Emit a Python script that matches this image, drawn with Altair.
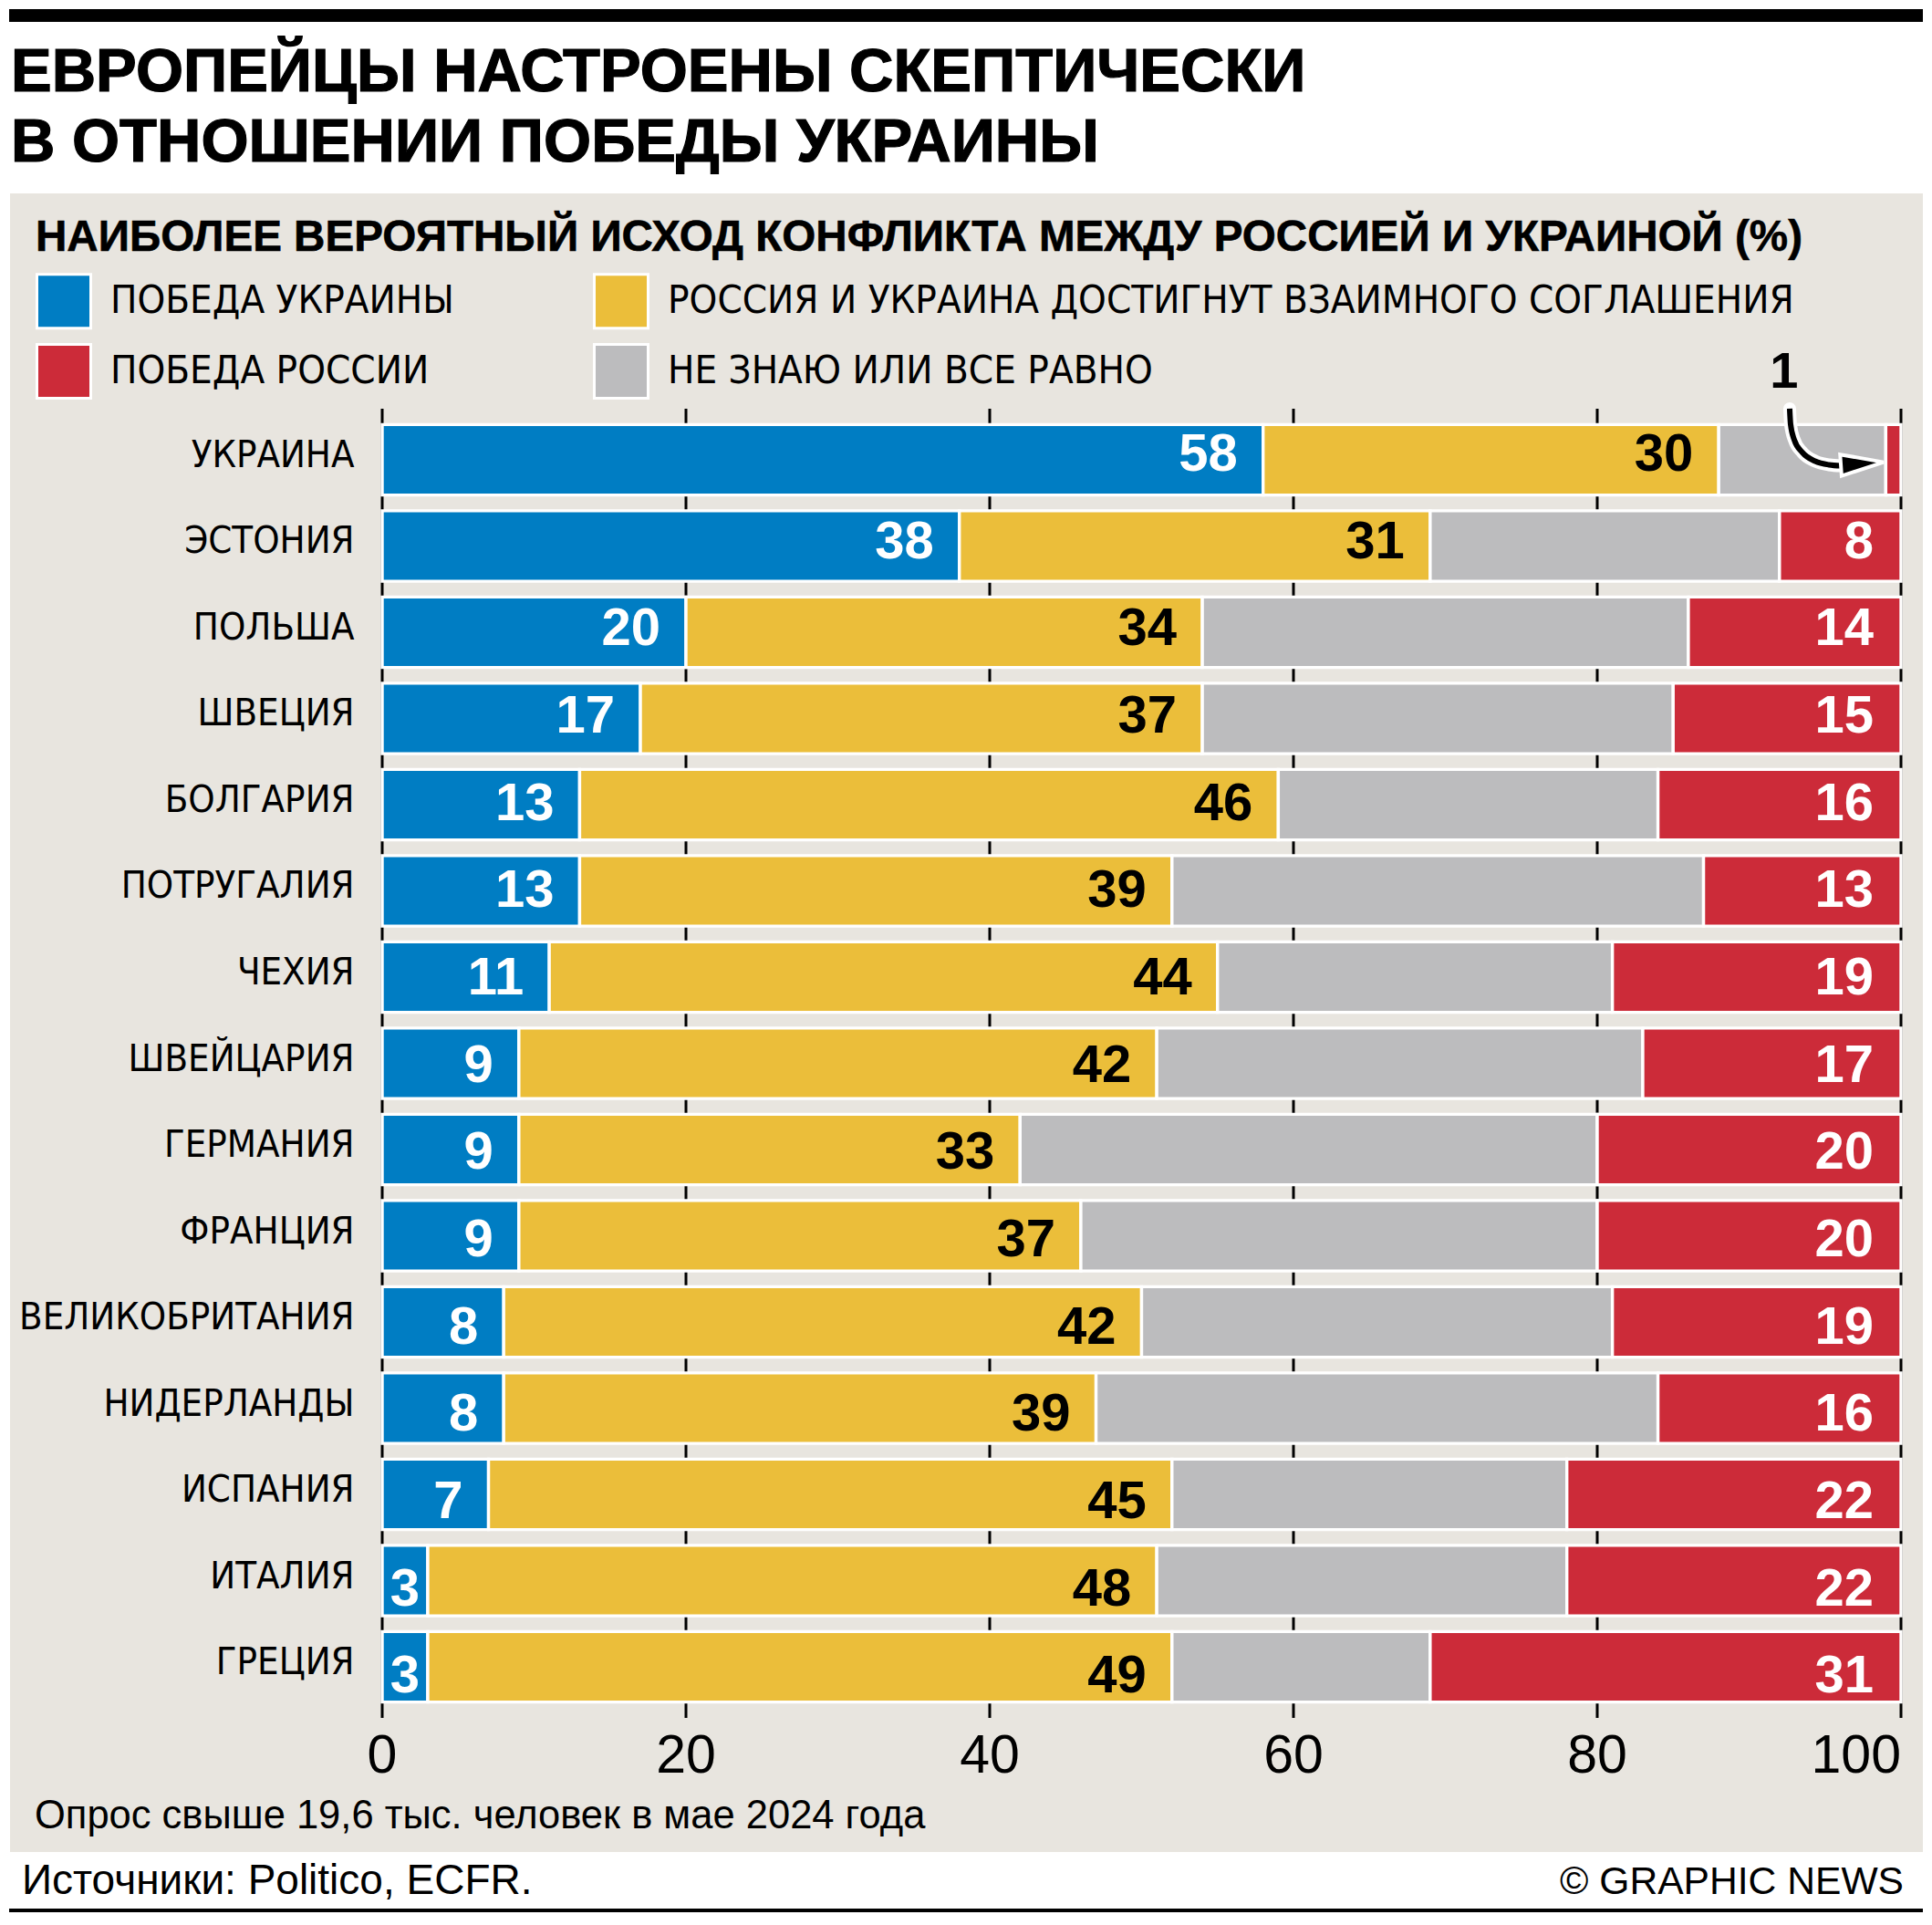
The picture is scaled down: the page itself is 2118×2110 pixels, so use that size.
import altair as alt
import pandas as pd

# ---------------- data ----------------
COUNTRIES = ["УКРАИНА", "ЭСТОНИЯ", "ПОЛЬША", "ШВЕЦИЯ", "БОЛГАРИЯ", "ПОТРУГАЛИЯ",
             "ЧЕХИЯ", "ШВЕЙЦАРИЯ", "ГЕРМАНИЯ", "ФРАНЦИЯ", "ВЕЛИКОБРИТАНИЯ",
             "НИДЕРЛАНДЫ", "ИСПАНИЯ", "ИТАЛИЯ", "ГРЕЦИЯ"]
UKRAINE_WIN = [58, 38, 20, 17, 13, 13, 11, 9, 9, 9, 8, 8, 7, 3, 3]
AGREEMENT = [30, 31, 34, 37, 46, 39, 44, 42, 33, 37, 42, 39, 45, 48, 49]
DONT_KNOW = [11, 23, 32, 31, 25, 35, 26, 32, 38, 34, 31, 37, 26, 27, 17]
RUSSIA_WIN = [1, 8, 14, 15, 16, 13, 19, 17, 20, 20, 19, 16, 22, 22, 31]

CAT_UA = "ПОБЕДА УКРАИНЫ"
CAT_AG = "РОССИЯ И УКРАИНА ДОСТИГНУТ ВЗАИМНОГО СОГЛАШЕНИЯ"
CAT_DK = "НЕ ЗНАЮ ИЛИ ВСЕ РАВНО"
CAT_RU = "ПОБЕДА РОССИИ"
STACK_ORDER = [CAT_UA, CAT_AG, CAT_DK, CAT_RU]
# legend fills column by column: first column (UA, RU), second column (AG, DK)
LEGEND_ORDER = [CAT_UA, CAT_RU, CAT_AG, CAT_DK]
LEGEND_COLORS = ["#007DC3", "#CC2B39", "#EBBE3A", "#BCBCBE"]

X_TICKS = [0, 20, 40, 60, 80, 100]

TITLE_1 = "ЕВРОПЕЙЦЫ НАСТРОЕНЫ СКЕПТИЧЕСКИ"
TITLE_2 = "В ОТНОШЕНИИ ПОБЕДЫ УКРАИНЫ"
SUBTITLE = "НАИБОЛЕЕ ВЕРОЯТНЫЙ ИСХОД КОНФЛИКТА МЕЖДУ РОССИЕЙ И УКРАИНОЙ (%)"
NOTE = "Опрос свыше 19,6 тыс. человек в мае 2024 года"
SOURCE = "Источники: Politico, ECFR."
CREDIT = "© GRAPHIC NEWS"

# annotation for the 1% sliver (x in %, y in row units: 0 = first bar centre)
ANNOT_TEXT = [str(RUSSIA_WIN[0])]
ANNOT_X = [92.3]
ANNOT_ROW = [-1.014]
ARROW_X = [92.67, 92.73, 92.97, 93.51, 94.35, 95.26, 96.04]
ARROW_ROW = [-0.593, -0.413, -0.233, -0.085, 0.016, 0.058, 0.069]
HEAD_X = [97.45]
HEAD_ROW = [0.045]

# ---------------- tables ----------------
rows = []
series = [UKRAINE_WIN, AGREEMENT, DONT_KNOW, RUSSIA_WIN]
for i, c in enumerate(COUNTRIES):
    start = 0
    for cat, vals in zip(STACK_ORDER, series):
        v = vals[i]
        rows.append(dict(country=c, cat=cat, value=v, start=start, end=start + v,
                         mid=start + v / 2, label=str(v)))
        start += v
df = pd.DataFrame(rows)

annot = pd.DataFrame({"x": ANNOT_X, "row": ANNOT_ROW, "t": ANNOT_TEXT})
arrow = pd.DataFrame({"x": ARROW_X, "row": ARROW_ROW, "k": list(range(len(ARROW_X)))})
head = pd.DataFrame({"x": HEAD_X, "row": HEAD_ROW})
ticks = pd.DataFrame({"tick": X_TICKS})
one = pd.DataFrame({"a": [0]})

# ---------------- style ----------------
W, H = 1665, 1435
PANEL = "#E8E5DF"
SANS = "Liberation Sans, Arial, sans-serif"
NARROW = "DejaVu Sans Condensed, Liberation Sans, sans-serif"

x_scale = alt.Scale(domain=[0, 100], nice=False, zero=True)
y_scale = alt.Scale(domain=COUNTRIES, paddingInner=0.182, paddingOuter=0.1835)
row_scale = alt.Scale(domain=[-0.5926, 14.5926], reverse=True, nice=False, zero=False)


def deco_rect(color, x1, x2, y1, y2):
    return alt.Chart(one).mark_rect(color=color).encode(
        x=alt.value(x1), x2=alt.value(x2), y=alt.value(y1), y2=alt.value(y2))


def deco_text(text, x, y, size, font=SANS, weight="normal", align="left", stroke=None):
    kw = dict(align=align, baseline="alphabetic", font=font, fontSize=size,
              fontWeight=weight, color="black")
    if stroke:
        kw.update(stroke="black", strokeWidth=stroke)
    return alt.Chart(pd.DataFrame({"t": [text]})).mark_text(**kw).encode(
        text="t:N", x=alt.value(x), y=alt.value(y))


panel = deco_rect(PANEL, -408, 1689, -236, 1582)
top_bar = deco_rect("black", -409, 1689, -438, -424)
bottom_line = deco_rect("black", -409, 1689, 1644, 1648)

grid = alt.Chart(ticks).mark_rule(color="black", strokeWidth=3).encode(
    x=alt.X("tick:Q", scale=x_scale, axis=None),
    y=alt.value(0), y2=alt.value("height"))


def tick_labels(flt, align):
    return alt.Chart(ticks).transform_filter(flt).mark_text(
        align=align, baseline="top", dy=13, font=SANS, fontSize=59, color="black").encode(
        x=alt.X("tick:Q", scale=x_scale, axis=None),
        y=alt.value("height"),
        text=alt.Text("tick:Q", format="d"))


tick_mid = tick_labels("datum.tick < 100", "center")
tick_end = tick_labels("datum.tick >= 100", "right")

bars = alt.Chart(df).mark_bar(stroke="white", strokeWidth=3.4).encode(
    x=alt.X("start:Q", scale=x_scale, axis=None),
    x2="end:Q",
    y=alt.Y("country:N", scale=y_scale,
            axis=alt.Axis(domain=False, ticks=False, labelFont=NARROW, labelFontSize=41.5,
                          labelColor="black", labelPadding=31, labelOffset=-4,
                          labelLimit=1000, title=None, zindex=2)),
    color=alt.Color("cat:N", scale=alt.Scale(domain=LEGEND_ORDER, range=LEGEND_COLORS),
                    legend=alt.Legend(orient="none", legendX=-380, legendY=-149,
                                      columns=2, columnPadding=147, rowPadding=5,
                                      symbolType="square", symbolSize=3481,
                                      symbolStrokeColor="white", symbolStrokeWidth=3,
                                      symbolOpacity=1, labelFont=NARROW, labelFontSize=43.5,
                                      labelColor="black", labelOffset=20, labelLimit=3000,
                                      padding=0, title=None)),
)


def value_labels(flt, xfield, align, dx, color):
    return alt.Chart(df).transform_filter(flt).mark_text(
        align=align, baseline="middle", dx=dx, dy=3, font=SANS, fontWeight="bold",
        fontSize=58, color=color).encode(
        x=alt.X(f"{xfield}:Q", scale=x_scale, axis=None),
        y=alt.Y("country:N", scale=y_scale, axis=None),
        text="label:N")


lab_ua = value_labels(f"datum.cat == '{CAT_UA}' && datum.value >= 5", "end", "right", -28, "white")
lab_ua_small = value_labels(f"datum.cat == '{CAT_UA}' && datum.value < 5", "mid", "center", 0, "white")
lab_ag = value_labels(f"datum.cat == '{CAT_AG}'", "end", "right", -28, "black")
lab_ru = value_labels(f"datum.cat == '{CAT_RU}' && datum.value >= 5", "end", "right", -30, "white")

arrow_white = alt.Chart(arrow).mark_line(color="white", strokeWidth=14, interpolate="monotone",
                                         strokeCap="round").encode(
    x=alt.X("x:Q", scale=x_scale, axis=None),
    y=alt.Y("row:Q", scale=row_scale, axis=None), order="k:Q")
arrow_black = alt.Chart(arrow).mark_line(color="black", strokeWidth=6, interpolate="monotone").encode(
    x=alt.X("x:Q", scale=x_scale, axis=None),
    y=alt.Y("row:Q", scale=row_scale, axis=None), order="k:Q")
arrow_head = alt.Chart(head).mark_point(shape="M-1,-0.5L1,0L-1,0.5Z", size=2209, filled=True,
                                        fill="black", stroke="white", strokeWidth=4,
                                        opacity=1, angle=356).encode(
    x=alt.X("x:Q", scale=x_scale, axis=None),
    y=alt.Y("row:Q", scale=row_scale, axis=None))
annot_text = alt.Chart(annot).mark_text(align="center", baseline="middle", font=SANS,
                                        fontWeight="bold", fontSize=56, color="black").encode(
    x=alt.X("x:Q", scale=x_scale, axis=None),
    y=alt.Y("row:Q", scale=row_scale, axis=None), text="t:N")

title1 = deco_text(TITLE_1, -407, -348.5, 67, weight="bold", stroke=1.2)
title2 = deco_text(TITLE_2, -407, -271, 67, weight="bold", stroke=1.2)
subtitle = deco_text(SUBTITLE, -380, -173, 47.6, weight="bold", stroke=0.6)
note = deco_text(NOTE, -381, 1556, 43.5)
source = deco_text(SOURCE, -395, 1628, 46)
credit = deco_text(CREDIT, 1668, 1628, 42.6, align="right")

chart = alt.layer(
    panel, top_bar, bottom_line, grid, bars, tick_mid, tick_end,
    lab_ua, lab_ua_small, lab_ag, lab_ru,
    arrow_white, arrow_black, arrow_head, annot_text,
    title1, title2, subtitle, note, source, credit,
).resolve_scale(y="independent").properties(
    width=W, height=H,
    autosize=alt.AutoSizeParams(type="none"),
    padding={"left": 411, "top": 440, "right": 24, "bottom": 213},
    background="white",
).configure_view(stroke=None)

chart.save("out.html", embed_options={"renderer": "svg", "actions": False})
